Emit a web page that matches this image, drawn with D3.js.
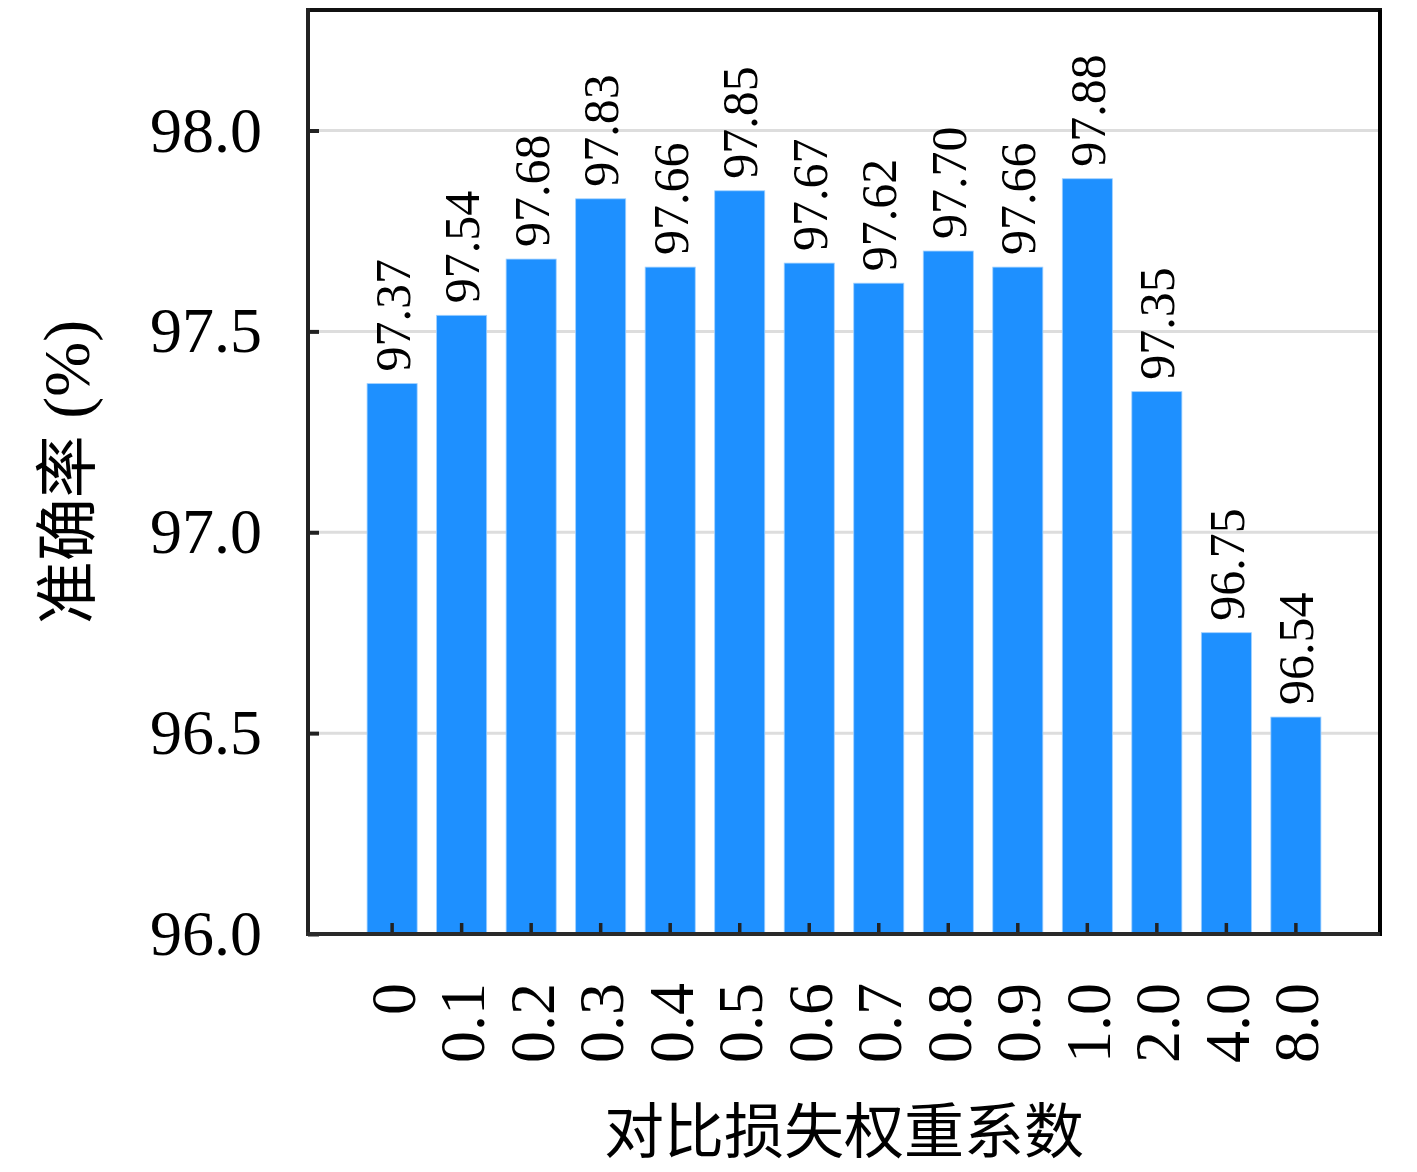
<!DOCTYPE html>
<html>
<head>
<meta charset="utf-8">
<script src="https://cdn.jsdelivr.net/npm/d3@7"></script>
<style>
  body { margin: 0; background: #fff; }
</style>
</head>
<body>
<div id="chart"></div>
<script>
// data
var categories = ["0", "0.1", "0.2", "0.3", "0.4", "0.5", "0.6", "0.7", "0.8", "0.9", "1.0", "2.0", "4.0", "8.0"];
var accuracy = [97.37, 97.54, 97.68, 97.83, 97.66, 97.85, 97.67, 97.62, 97.70, 97.66, 97.88, 97.35, 96.75, 96.54];
var yTicks = [96.0, 96.5, 97.0, 97.5, 98.0];

var width = 1417,
    height = 1172;
var plotL = 308, plotR = 1380, plotT = 10, plotB = 934;
var numFont = "'Liberation Serif', 'Times New Roman', serif";
var cjkFont = "'Noto Sans CJK SC', sans-serif";

var svg = d3.select("#chart").append("svg")
    .attr("width", width)
    .attr("height", height);

var x = d3.scaleBand()
    .domain(categories)
    .range([plotL, plotR])
    .paddingInner(0.28)
    .paddingOuter(0.85);

var y = d3.scaleLinear()
    .domain([96, 98.3])
    .range([plotB, plotT]);

// grid lines
svg.append("g")
    .selectAll("line")
    .data(yTicks.filter(function(d) { return d > 96; }))
    .enter().append("line")
    .attr("x1", plotL)
    .attr("x2", plotR)
    .attr("y1", function(d) { return y(d); })
    .attr("y2", function(d) { return y(d); })
    .attr("stroke", "#dddddd")
    .attr("stroke-width", 3);

// bars
svg.append("g")
    .selectAll("rect")
    .data(accuracy)
    .enter().append("rect")
    .attr("x", function(d, i) { return x(categories[i]); })
    .attr("y", function(d) { return y(d); })
    .attr("width", x.bandwidth())
    .attr("height", function(d) { return y(96) - y(d); })
    .attr("fill", "#1e90ff")
    .attr("stroke", "#9fd0ff")
    .attr("stroke-width", 0.8);

// value labels
svg.append("g")
    .selectAll("text")
    .data(accuracy)
    .enter().append("text")
    .attr("transform", function(d, i) {
        return "translate(" + (x(categories[i]) + x.bandwidth() / 2) + "," + (y(d) - 12) + ") rotate(-90)";
    })
    .attr("dy", "0.35em")
    .attr("text-anchor", "start")
    .attr("font-family", numFont)
    .attr("font-size", 50)
    .attr("fill", "#000")
    .text(function(d) { return d.toFixed(2); });

// y axis
var yAxis = svg.append("g")
    .attr("transform", "translate(" + plotL + ",0)")
    .call(d3.axisLeft(y)
        .tickValues(yTicks)
        .tickSizeInner(-11)
        .tickSizeOuter(0)
        .tickPadding(46)
        .tickFormat(d3.format(".1f")));
yAxis.select(".domain").remove();
yAxis.selectAll(".tick line").attr("stroke", "#222").attr("stroke-width", 4);
yAxis.selectAll(".tick text")
    .attr("font-family", numFont)
    .attr("font-size", 64)
    .attr("fill", "#000");

// x axis
var xAxis = svg.append("g")
    .attr("transform", "translate(0," + plotB + ")")
    .call(d3.axisBottom(x)
        .tickSizeInner(-11)
        .tickSizeOuter(0));
xAxis.select(".domain").remove();
xAxis.selectAll(".tick line").attr("stroke", "#222").attr("stroke-width", 3.5);
xAxis.selectAll(".tick text")
    .attr("transform", "rotate(-90)")
    .attr("x", -49)
    .attr("y", 0)
    .attr("dy", "0.35em")
    .attr("text-anchor", "end")
    .attr("font-family", numFont)
    .attr("font-size", 64)
    .attr("fill", "#000");

// frame
svg.append("line")
    .attr("x1", plotL).attr("x2", plotR + 2)
    .attr("y1", plotT).attr("y2", plotT)
    .attr("stroke", "#111").attr("stroke-width", 4);
svg.append("line")
    .attr("x1", plotR).attr("x2", plotR)
    .attr("y1", plotT).attr("y2", plotB + 2)
    .attr("stroke", "#000").attr("stroke-width", 4);
svg.append("line")
    .attr("x1", plotL).attr("x2", plotL)
    .attr("y1", plotT - 2).attr("y2", plotB + 2)
    .attr("stroke", "#222").attr("stroke-width", 4);
svg.append("line")
    .attr("x1", plotL - 2).attr("x2", plotR)
    .attr("y1", plotB).attr("y2", plotB)
    .attr("stroke", "#2a2a2a").attr("stroke-width", 4);

// axis titles
var yTitle = svg.append("text")
    .attr("transform", "translate(67," + ((plotT + plotB) / 2) + ") rotate(-90)")
    .attr("text-anchor", "middle")
    .attr("dy", "0.35em")
    .attr("font-family", cjkFont)
    .attr("font-size", 63)
    .attr("fill", "#000");
yTitle.append("tspan").text("准确率");
yTitle.append("tspan").attr("font-family", numFont).attr("font-size", 66).text(" (%)");

svg.append("text")
    .attr("x", (plotL + plotR) / 2)
    .attr("y", 1153)
    .attr("text-anchor", "middle")
    .attr("font-family", cjkFont)
    .attr("font-size", 60)
    .attr("fill", "#000")
    .text("对比损失权重系数");
</script>
</body>
</html>
